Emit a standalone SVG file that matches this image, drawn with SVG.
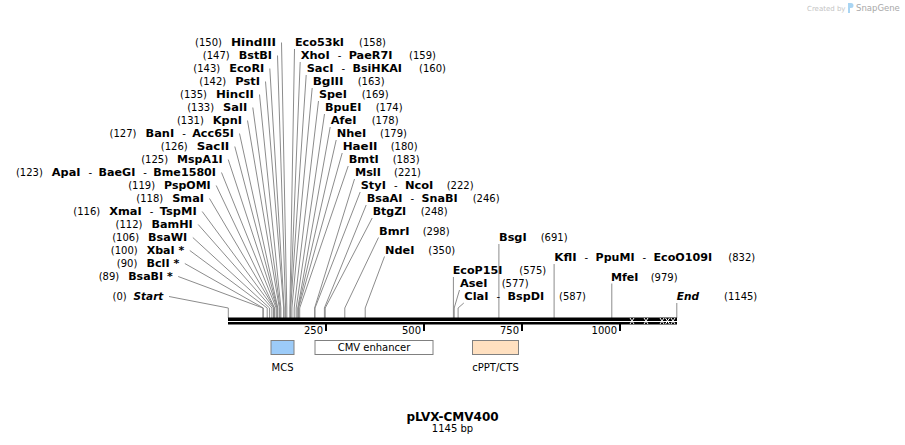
<svg xmlns="http://www.w3.org/2000/svg" width="905" height="445" viewBox="0 0 905 445">
<style>
text{font-family:"DejaVu Sans",Verdana,sans-serif;fill:#000}
.nm{font-size:11px;font-weight:bold}
.it{font-style:italic}
.nu{font-size:10px}
.ds{font-size:10px}
.e{text-anchor:end}
.c{text-anchor:middle}
.l{stroke:#8c8c8c;stroke-width:1;fill:none}
.tk{stroke:#000;stroke-width:2}
.ft{stroke:#808080;stroke-width:1}
.x{stroke:#fff;stroke-width:1}
</style>
<rect width="905" height="445" fill="#fff"/>

<g id="watermark">
<text x="807" y="10.5" style="font-size:7px;fill:#c4c4c4">Created by</text>
<path d="M848,3 h3 a2.5,2.5 0 0 1 0,5 h-1 v5 h-2 z" fill="#a9d5f3"/>
<text x="856" y="11" style="font-size:8.5px;fill:#a8a8a8">SnapGene</text>
</g>

<g id="connectors">
<polyline class="l" points="281.5,42.5 286.8,308 286.8,318"/>
<polyline class="l" points="277.5,55.5 285.6,308 285.6,318"/>
<polyline class="l" points="269.8,68.5 284.1,308 284.1,318"/>
<polyline class="l" points="265.5,81.5 283.7,308 283.7,318"/>
<polyline class="l" points="259.5,94.5 280.9,308 280.9,318"/>
<polyline class="l" points="252.8,107.5 280.1,308 280.1,318"/>
<polyline class="l" points="247.5,120.5 279.4,308 279.4,318"/>
<polyline class="l" points="239.5,133.5 277.8,308 277.8,318"/>
<polyline class="l" points="234.8,146.5 277.4,308 277.4,318"/>
<polyline class="l" points="228.2,159.5 277,308 277,318"/>
<polyline class="l" points="221.5,172.5 276.2,308 276.2,318"/>
<polyline class="l" points="216.2,185.5 274.6,308 274.6,318"/>
<polyline class="l" points="209.5,198.5 274.3,308 274.3,318"/>
<polyline class="l" points="202.2,211.5 273.5,308 273.5,318"/>
<polyline class="l" points="198.2,224.5 271.9,308 271.9,318"/>
<polyline class="l" points="192.8,237.5 269.6,308 269.6,318"/>
<polyline class="l" points="189.8,250.5 267.2,308 267.2,318"/>
<polyline class="l" points="184.8,263.5 263.3,308 263.3,318"/>
<polyline class="l" points="178.2,276.5 262.9,308 262.9,318"/>
<polyline class="l" points="169,296.5 228.3,308 228.3,318"/>
<polyline class="l" points="294.5,49 289.9,308 289.9,318"/>
<polyline class="l" points="300.2,62 290.3,308 290.3,318"/>
<polyline class="l" points="306.2,75 290.7,308 290.7,318"/>
<polyline class="l" points="312.2,88 291.9,308 291.9,318"/>
<polyline class="l" points="318.5,101 294.2,308 294.2,318"/>
<polyline class="l" points="324.5,114 296.2,308 296.2,318"/>
<polyline class="l" points="330.2,127 297.8,308 297.8,318"/>
<polyline class="l" points="336.2,140 298.2,308 298.2,318"/>
<polyline class="l" points="342.2,153 298.6,308 298.6,318"/>
<polyline class="l" points="348.2,166 299.7,308 299.7,318"/>
<polyline class="l" points="354.5,179 314.6,308 314.6,318"/>
<polyline class="l" points="360.2,192 315,308 315,318"/>
<polyline class="l" points="366.2,205 324.4,308 324.4,318"/>
<polyline class="l" points="372.2,218 325.2,308 325.2,318"/>
<polyline class="l" points="378.5,237.5 344.8,308 344.8,318"/>
<polyline class="l" points="384.5,256.5 365.2,308 365.2,318"/>
<polyline class="l" points="498.9,244 498.9,318"/>
<polyline class="l" points="554.1,264 554.1,318"/>
<polyline class="l" points="453.4,277 453.4,318"/>
<polyline class="l" points="459.5,290 454.2,308 454.2,318"/>
<polyline class="l" points="463.8,303 458.1,308 458.1,318"/>
<polyline class="l" points="611.8,283.5 611.8,318"/>
<polyline class="l" points="676.8,303 676.8,318"/>
</g>

<g id="backbone">
<rect x="228" y="317.5" width="449" height="3.5" fill="#000"/>
<rect x="228" y="322" width="449" height="2.5" fill="#000"/>
<path class="x" d="M630,318 l4,6 M634,318 l-4,6 M644,318 l4,6 M648,318 l-4,6 M660,318 l4,6 M664,318 l-4,6 M665.5,318 l4,6 M669.5,318 l-4,6 M671,318 l4,6 M675,318 l-4,6"/>
<line class="tk" x1="326" y1="324" x2="326" y2="331"/>
<line class="tk" x1="424" y1="324" x2="424" y2="331"/>
<line class="tk" x1="522" y1="324" x2="522" y2="331"/>
<line class="tk" x1="620" y1="324" x2="620" y2="331"/>
<text class="nu e" x="323" y="334">250</text>
<text class="nu e" x="421" y="334">500</text>
<text class="nu e" x="519" y="334">750</text>
<text class="nu e" x="617" y="334">1000</text>
</g>

<g id="feature-MCS">
<rect class="ft" x="271" y="340.5" width="23" height="14" fill="#9ccbf8"/>
<text class="nu c" x="282.5" y="370.5">MCS</text>
</g>
<g id="feature-CMV">
<rect class="ft" x="315" y="340.5" width="118" height="14" fill="#fff"/>
<text class="nu c" x="374" y="351">CMV enhancer</text>
</g>
<g id="feature-cPPT">
<rect class="ft" x="472.5" y="340.5" width="46" height="14" fill="#ffe0c0"/>
<text class="nu c" x="495.5" y="370.5">cPPT/CTS</text>
</g>

<g id="title">
<text class="c" x="452.5" y="421" style="font-size:12px;font-weight:bold">pLVX-CMV400</text>
<text class="nu c" x="452.5" y="432">1145 bp</text>
</g>

<g id="site-HindIII"><text class="nu e" x="221.9" y="46">(150)</text><text class="nm" x="230.9" y="46" textLength="45.1" lengthAdjust="spacingAndGlyphs">HindIII</text></g>
<g id="site-BstBI"><text class="nu e" x="229.7" y="59">(147)</text><text class="nm" x="238.7" y="59" textLength="33.3" lengthAdjust="spacingAndGlyphs">BstBI</text></g>
<g id="site-EcoRI"><text class="nu e" x="220.2" y="72">(143)</text><text class="nm" x="229.2" y="72" textLength="35.1" lengthAdjust="spacingAndGlyphs">EcoRI</text></g>
<g id="site-PstI"><text class="nu e" x="226.2" y="85">(142)</text><text class="nm" x="235.2" y="85" textLength="24.8" lengthAdjust="spacingAndGlyphs">PstI</text></g>
<g id="site-HincII"><text class="nu e" x="206.9" y="98">(135)</text><text class="nm" x="215.9" y="98" textLength="38.1" lengthAdjust="spacingAndGlyphs">HincII</text></g>
<g id="site-SalI"><text class="nu e" x="214.1" y="111">(133)</text><text class="nm" x="223.1" y="111" textLength="24.2" lengthAdjust="spacingAndGlyphs">SalI</text></g>
<g id="site-KpnI"><text class="nu e" x="203.8" y="124">(131)</text><text class="nm" x="212.8" y="124" textLength="29.2" lengthAdjust="spacingAndGlyphs">KpnI</text></g>
<g id="site-BanI"><text class="nu e" x="136.5" y="137">(127)</text><text class="nm" x="145.5" y="137" textLength="28.7" lengthAdjust="spacingAndGlyphs">BanI</text><text class="ds" x="182.2" y="137">-</text><text class="nm" x="192.2" y="137" textLength="41.8" lengthAdjust="spacingAndGlyphs">Acc65I</text></g>
<g id="site-SacII"><text class="nu e" x="187.7" y="150">(126)</text><text class="nm" x="196.7" y="150" textLength="32.6" lengthAdjust="spacingAndGlyphs">SacII</text></g>
<g id="site-MspA1I"><text class="nu e" x="168.1" y="163">(125)</text><text class="nm" x="177.1" y="163" textLength="45.6" lengthAdjust="spacingAndGlyphs">MspA1I</text></g>
<g id="site-ApaI"><text class="nu e" x="42.8" y="176">(123)</text><text class="nm" x="51.8" y="176" textLength="28.7" lengthAdjust="spacingAndGlyphs">ApaI</text><text class="ds" x="88.5" y="176">-</text><text class="nm" x="98.5" y="176" textLength="36.8" lengthAdjust="spacingAndGlyphs">BaeGI</text><text class="ds" x="143.3" y="176">-</text><text class="nm" x="153.3" y="176" textLength="62.7" lengthAdjust="spacingAndGlyphs">Bme1580I</text></g>
<g id="site-PspOMI"><text class="nu e" x="155.1" y="189">(119)</text><text class="nm" x="164.1" y="189" textLength="46.6" lengthAdjust="spacingAndGlyphs">PspOMI</text></g>
<g id="site-SmaI"><text class="nu e" x="163.2" y="202">(118)</text><text class="nm" x="172.2" y="202" textLength="31.8" lengthAdjust="spacingAndGlyphs">SmaI</text></g>
<g id="site-XmaI"><text class="nu e" x="100.2" y="215">(116)</text><text class="nm" x="109.2" y="215" textLength="32.5" lengthAdjust="spacingAndGlyphs">XmaI</text><text class="ds" x="149.7" y="215">-</text><text class="nm" x="159.7" y="215" textLength="37" lengthAdjust="spacingAndGlyphs">TspMI</text></g>
<g id="site-BamHI"><text class="nu e" x="142.4" y="228">(112)</text><text class="nm" x="151.4" y="228" textLength="41.3" lengthAdjust="spacingAndGlyphs">BamHI</text></g>
<g id="site-BsaWI"><text class="nu e" x="139.1" y="241">(106)</text><text class="nm" x="148.1" y="241" textLength="39.2" lengthAdjust="spacingAndGlyphs">BsaWI</text></g>
<g id="site-XbaI"><text class="nu e" x="137.7" y="254">(100)</text><text class="nm" x="146.7" y="254" textLength="37.6" lengthAdjust="spacingAndGlyphs">XbaI *</text></g>
<g id="site-BclI"><text class="nu e" x="137.4" y="267">(90)</text><text class="nm" x="146.4" y="267" textLength="32.9" lengthAdjust="spacingAndGlyphs">BclI *</text></g>
<g id="site-BsaBI"><text class="nu e" x="119.2" y="280">(89)</text><text class="nm" x="128.2" y="280" textLength="44.5" lengthAdjust="spacingAndGlyphs">BsaBI *</text></g>
<g id="site-Start"><text class="nu e" x="126.7" y="300">(0)</text><text class="nm it" x="133.6" y="300" textLength="29.7" lengthAdjust="spacingAndGlyphs">Start</text></g>

<g id="site-Eco53kI"><text class="nm" x="295" y="46" textLength="49" lengthAdjust="spacingAndGlyphs">Eco53kI</text><text class="nu" x="359" y="46">(158)</text></g>
<g id="site-XhoI"><text class="nm" x="300.7" y="59" textLength="29" lengthAdjust="spacingAndGlyphs">XhoI</text><text class="ds" x="337.7" y="59">-</text><text class="nm" x="348.7" y="59" textLength="43.8" lengthAdjust="spacingAndGlyphs">PaeR7I</text><text class="nu" x="409" y="59">(159)</text></g>
<g id="site-SacI"><text class="nm" x="306.7" y="72" textLength="26.8" lengthAdjust="spacingAndGlyphs">SacI</text><text class="ds" x="341.5" y="72">-</text><text class="nm" x="352.5" y="72" textLength="49.5" lengthAdjust="spacingAndGlyphs">BsiHKAI</text><text class="nu" x="419" y="72">(160)</text></g>
<g id="site-BglII"><text class="nm" x="312.7" y="85" textLength="30.9" lengthAdjust="spacingAndGlyphs">BglII</text><text class="nu" x="357.7" y="85">(163)</text></g>
<g id="site-SpeI"><text class="nm" x="319" y="98" textLength="27.9" lengthAdjust="spacingAndGlyphs">SpeI</text><text class="nu" x="361.7" y="98">(169)</text></g>
<g id="site-BpuEI"><text class="nm" x="325" y="111" textLength="36.3" lengthAdjust="spacingAndGlyphs">BpuEI</text><text class="nu" x="375.7" y="111">(174)</text></g>
<g id="site-AfeI"><text class="nm" x="330.7" y="124" textLength="25.7" lengthAdjust="spacingAndGlyphs">AfeI</text><text class="nu" x="371.7" y="124">(178)</text></g>
<g id="site-NheI"><text class="nm" x="336.7" y="137" textLength="29.5" lengthAdjust="spacingAndGlyphs">NheI</text><text class="nu" x="380" y="137">(179)</text></g>
<g id="site-HaeII"><text class="nm" x="342.7" y="150" textLength="34.8" lengthAdjust="spacingAndGlyphs">HaeII</text><text class="nu" x="390.7" y="150">(180)</text></g>
<g id="site-BmtI"><text class="nm" x="348.7" y="163" textLength="30.1" lengthAdjust="spacingAndGlyphs">BmtI</text><text class="nu" x="392.7" y="163">(183)</text></g>
<g id="site-MslI"><text class="nm" x="355" y="176" textLength="25.9" lengthAdjust="spacingAndGlyphs">MslI</text><text class="nu" x="394" y="176">(221)</text></g>
<g id="site-StyI"><text class="nm" x="360.7" y="189" textLength="25.2" lengthAdjust="spacingAndGlyphs">StyI</text><text class="ds" x="393.9" y="189">-</text><text class="nm" x="404.9" y="189" textLength="28.5" lengthAdjust="spacingAndGlyphs">NcoI</text><text class="nu" x="446.7" y="189">(222)</text></g>
<g id="site-BsaAI"><text class="nm" x="366.7" y="202" textLength="35.7" lengthAdjust="spacingAndGlyphs">BsaAI</text><text class="ds" x="410.4" y="202">-</text><text class="nm" x="421.4" y="202" textLength="36.2" lengthAdjust="spacingAndGlyphs">SnaBI</text><text class="nu" x="472.7" y="202">(246)</text></g>
<g id="site-BtgZI"><text class="nm" x="372.7" y="215" textLength="33.5" lengthAdjust="spacingAndGlyphs">BtgZI</text><text class="nu" x="420.7" y="215">(248)</text></g>
<g id="site-BmrI"><text class="nm" x="379" y="234.5" textLength="30.5" lengthAdjust="spacingAndGlyphs">BmrI</text><text class="nu" x="422.7" y="234.5">(298)</text></g>
<g id="site-NdeI"><text class="nm" x="385" y="253.5" textLength="29.4" lengthAdjust="spacingAndGlyphs">NdeI</text><text class="nu" x="428.3" y="253.5">(350)</text></g>
<g id="site-BsgI"><text class="nm" x="499" y="241" textLength="27.7" lengthAdjust="spacingAndGlyphs">BsgI</text><text class="nu" x="540.7" y="241">(691)</text></g>
<g id="site-KflI"><text class="nm" x="554.3" y="261" textLength="22.3" lengthAdjust="spacingAndGlyphs">KflI</text><text class="ds" x="584.6" y="261">-</text><text class="nm" x="595.6" y="261" textLength="38.9" lengthAdjust="spacingAndGlyphs">PpuMI</text><text class="ds" x="642.5" y="261">-</text><text class="nm" x="653.5" y="261" textLength="58.6" lengthAdjust="spacingAndGlyphs">EcoO109I</text><text class="nu" x="728.3" y="261">(832)</text></g>
<g id="site-EcoP15I"><text class="nm" x="452.7" y="274" textLength="49.7" lengthAdjust="spacingAndGlyphs">EcoP15I</text><text class="nu" x="519.3" y="274">(575)</text></g>
<g id="site-AseI"><text class="nm" x="460" y="287" textLength="27.5" lengthAdjust="spacingAndGlyphs">AseI</text><text class="nu" x="501.7" y="287">(577)</text></g>
<g id="site-ClaI"><text class="nm" x="464.3" y="300" textLength="24.3" lengthAdjust="spacingAndGlyphs">ClaI</text><text class="ds" x="496.6" y="300">-</text><text class="nm" x="507.6" y="300" textLength="36.6" lengthAdjust="spacingAndGlyphs">BspDI</text><text class="nu" x="559" y="300">(587)</text></g>
<g id="site-MfeI"><text class="nm" x="611" y="280.5" textLength="27.5" lengthAdjust="spacingAndGlyphs">MfeI</text><text class="nu" x="650.7" y="280.5">(979)</text></g>
<g id="site-End"><text class="nm it" x="676.7" y="300" textLength="22.3" lengthAdjust="spacingAndGlyphs">End</text><text class="nu" x="724" y="300">(1145)</text></g>
</svg>
